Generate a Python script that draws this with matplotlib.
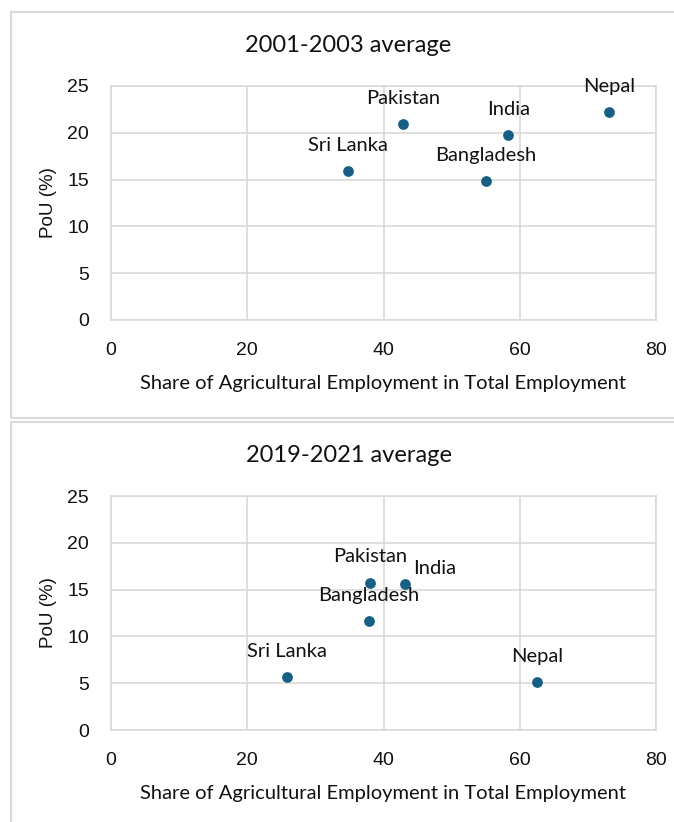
import matplotlib
matplotlib.use("Agg")
import matplotlib.pyplot as plt
from matplotlib.patches import Rectangle

plt.rcParams['font.family'] = ['Lato', 'DejaVu Sans']

countries = ['Sri Lanka', 'Pakistan', 'Bangladesh', 'India', 'Nepal']

# Share of agricultural employment (%) and prevalence of undernourishment (%)
agri_2001_2003 = [34.8, 42.9, 55.0, 58.3, 73.1]
pou_2001_2003 = [15.9, 20.9, 14.8, 19.8, 22.2]

agri_2019_2021 = [25.8, 38.0, 37.8, 43.2, 62.5]
pou_2019_2021 = [5.7, 15.7, 11.6, 15.6, 5.1]

titles = ['2001-2003 average', '2019-2021 average']
x_ticks = [0, 20, 40, 60, 80]
y_ticks = [0, 5, 10, 15, 20, 25]

# label offsets in pixels (dx, dy, ha) per panel
label_pos = [
    {c: (0, 20, 'center') for c in countries},
    {'Sri Lanka': (0, 20, 'center'), 'Pakistan': (0, 21, 'center'),
     'Bangladesh': (0, 20, 'center'), 'India': (8, 10, 'left'),
     'Nepal': (0, 20, 'center')},
]

dot_color = '#175f85'
grid_color = '#d9d9d9'
text_color = '#111111'

W, H = 674, 822
fig = plt.figure(figsize=(W / 100, H / 100), dpi=100)

panels = [(agri_2001_2003, pou_2001_2003), (agri_2019_2021, pou_2019_2021)]
for i, (xs, ys) in enumerate(panels):
    shift = 410 * i

    # chart frame
    fig.patches.append(Rectangle((10.5 / W, 1 - (418 + shift) / H), 700 / W, 406 / H,
                                 transform=fig.transFigure, fill=False,
                                 edgecolor=grid_color, linewidth=1.5))

    ax = fig.add_axes([111 / W, 1 - (320 + shift) / H, 545 / W, 234 / H])
    ax.scatter(xs, ys, s=60, color=dot_color, zorder=3, linewidths=0)
    for name, x, y in zip(countries, xs, ys):
        dx, dy, ha = label_pos[i][name]
        ax.annotate(name, (x, y), xytext=(dx, dy), textcoords='offset pixels',
                    ha=ha, va='baseline', fontsize=14.5, color=text_color,
                    annotation_clip=False)

    ax.set_xlim(0, 80)
    ax.set_ylim(0, 25)
    ax.set_xticks(x_ticks)
    ax.set_yticks(y_ticks)
    ax.grid(True, color=grid_color, linewidth=1.2)
    ax.set_axisbelow(True)
    for sp in ax.spines.values():
        sp.set_color(grid_color)
        sp.set_linewidth(1.2)
    ax.tick_params(length=0, labelsize=14, colors=text_color)
    ax.tick_params(axis='x', pad=16)
    ax.tick_params(axis='y', pad=16)
    for lbl in ax.get_xticklabels() + ax.get_yticklabels():
        lbl.set_fontfamily('Liberation Sans')

    ax.set_xlabel('Share of Agricultural Employment in Total Employment',
                  fontsize=14.5, color=text_color, labelpad=11)
    ax.set_ylabel('PoU (%)', fontsize=13.5, color=text_color, labelpad=7,
                  fontfamily='Liberation Sans')

    fig.text(348.5 / W, 1 - (52 + shift) / H, titles[i], ha='center',
             va='baseline', fontsize=17, color=text_color)

fig.savefig('out.png', dpi=100)
